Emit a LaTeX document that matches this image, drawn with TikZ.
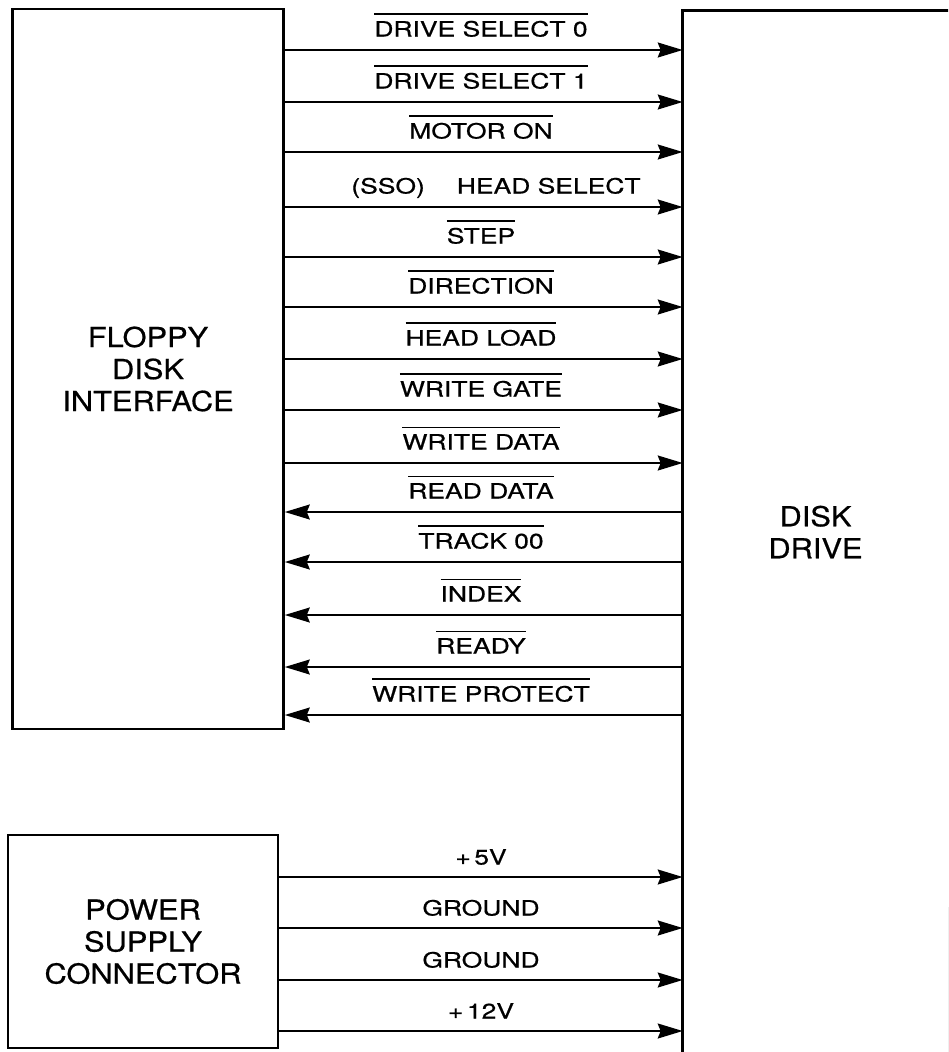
\documentclass[tikz,border=0pt]{standalone}
\usepackage{fontspec}
\usetikzlibrary{arrows.meta}
\newfontfamily\lblfamily[FakeStretch=1.26,FakeBold=0.6]{TeX Gyre Heros}
\newfontfamily\boxfamily[FakeStretch=1.12,FakeBold=0.6]{TeX Gyre Heros}
\newsavebox\ovlbox
\newcommand\ovl[1]{\sbox\ovlbox{#1}\rlap{\raisebox{\dimexpr\ht\ovlbox+6pt\relax}{\rule{\wd\ovlbox}{1.4pt}}}\usebox\ovlbox}
\begin{document}
\begin{tikzpicture}[x=1pt,y=-1pt,
  box/.style={draw, line width=2.6pt, inner sep=0pt, align=center,
    font=\boxfamily\fontsize{27.5}{32}\selectfont},
  lbl/.style={anchor=base, inner sep=0pt, font=\lblfamily\fontsize{21}{24}\selectfont},
  arr/.style={line width=1.8pt, -{Stealth[length=25pt,width=15pt,inset=3pt]}}
]
\useasboundingbox (0,0) rectangle (948,1052);
\clip (0,0) rectangle (948,1052);
\fill[white] (0,0) rectangle (948,1052);
% boxes
\node[box, minimum width=271pt, minimum height=720pt] (fdi) at (148,369) {FLOPPY\\DISK\\INTERFACE};
\node[box, minimum width=270pt, minimum height=213pt] (psc) at (143,941.5) {POWER\\SUPPLY\\CONNECTOR};
\node[box, draw=none, minimum width=263pt, minimum height=1040pt] (dd) at (815.5,532) {DISK\\DRIVE};
\draw[line width=2.6pt] (dd.south west) -- (dd.north west) -- ([xshift=6pt]dd.north east);
\draw[gray, line width=1pt] (dd.east |- 0,907) -- (dd.south east);
% interface signals
\draw[arr] (fdi.east |- 0,50) -- (dd.west |- 0,50);
\draw[arr] (fdi.east |- 0,102) -- (dd.west |- 0,102);
\draw[arr] (fdi.east |- 0,152) -- (dd.west |- 0,152);
\draw[arr] (fdi.east |- 0,207) -- (dd.west |- 0,207);
\draw[arr] (fdi.east |- 0,257) -- (dd.west |- 0,257);
\draw[arr] (fdi.east |- 0,307) -- (dd.west |- 0,307);
\draw[arr] (fdi.east |- 0,359) -- (dd.west |- 0,359);
\draw[arr] (fdi.east |- 0,410) -- (dd.west |- 0,410);
\draw[arr] (fdi.east |- 0,463) -- (dd.west |- 0,463);
\draw[arr] (dd.west |- 0,512) -- (fdi.east |- 0,512);
\draw[arr] (dd.west |- 0,562) -- (fdi.east |- 0,562);
\draw[arr] (dd.west |- 0,615) -- (fdi.east |- 0,615);
\draw[arr] (dd.west |- 0,667) -- (fdi.east |- 0,667);
\draw[arr] (dd.west |- 0,715) -- (fdi.east |- 0,715);
% power
\draw[arr] (psc.east |- 0,877) -- (dd.west |- 0,877);
\draw[arr] (psc.east |- 0,928) -- (dd.west |- 0,928);
\draw[arr] (psc.east |- 0,980) -- (dd.west |- 0,980);
\draw[arr] (psc.east |- 0,1031) -- (dd.west |- 0,1031);
% labels
\node[lbl] (l1) at (481,36.5) {\ovl{DRIVE SELECT 0}};
\node[lbl] (l2) at (481,88.5) {\ovl{DRIVE SELECT 1}};
\node[lbl] (l3) at (481,138.5) {\ovl{MOTOR ON}};
\node[lbl] (l4) at (496,193.5) {(SSO)\hspace{32pt}HEAD SELECT};
\node[lbl] (l5) at (481,243.5) {\ovl{STEP}};
\node[lbl] (l6) at (481,293.5) {\ovl{DIRECTION}};
\node[lbl] (l7) at (481,345.5) {\ovl{HEAD LOAD}};
\node[lbl] (l8) at (481,396.5) {\ovl{WRITE GATE}};
\node[lbl] (l9) at (481,449.5) {\ovl{WRITE DATA}};
\node[lbl] (l10) at (481,498.5) {\ovl{READ DATA}};
\node[lbl] (l11) at (481,548.5) {\ovl{TRACK 00}};
\node[lbl] (l12) at (481,601.5) {\ovl{INDEX}};
\node[lbl] (l13) at (481,653.5) {\ovl{READY}};
\node[lbl] (l14) at (481,701.5) {\ovl{WRITE PROTECT}};
\node[lbl] (p1) at (481,864.5) {+\,5V};
\node[lbl] (p2) at (481,915.5) {GROUND};
\node[lbl] (p3) at (481,967.5) {GROUND};
\node[lbl] (p4) at (481,1018.5) {+\,12V};
\end{tikzpicture}
\end{document}
